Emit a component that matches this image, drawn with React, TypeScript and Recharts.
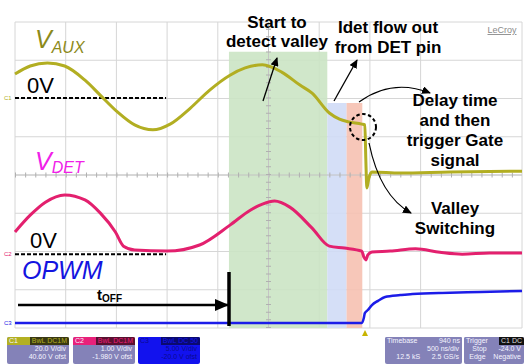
import React from "react";
import {
  ComposedChart,
  Line,
  XAxis,
  YAxis,
  CartesianGrid,
  ReferenceArea,
  ReferenceLine,
} from "recharts";

// time in ns (500 ns/div), level in divisions from screen centre
const timeTicks = [0, 500, 1000, 1500, 2000, 2500, 3000, 3500, 4000, 4500, 5000];
const levelTicks = [-4, -3, -2, -1, 0, 1, 2, 3, 4];

const auxTime = [0, 150, 320, 490, 690, 840, 1010, 1180, 1360, 1530, 1730, 1920, 2120, 2270, 2440, 2630, 2810, 2930, 3100, 3200, 3290, 3420, 3450, 3460, 3470, 3490, 3520, 3800, 4290, 5000];
const auxLevel = [2.64, 2.85, 2.93, 2.85, 2.48, 2.09, 1.65, 1.31, 1.18, 1.33, 1.75, 2.22, 2.61, 2.8, 2.88, 2.69, 2.35, 2.14, 1.62, 1.46, 1.39, 1.33, 1.31, 0.39, -0.34, -0.08, 0.08, 0.05, 0.08, 0.1];

const detTime = [0, 150, 300, 490, 690, 840, 990, 1070, 1180, 1500, 1820, 2120, 2320, 2440, 2560, 2710, 2930, 3100, 3250, 3420, 3440, 3460, 3480, 3520, 3700, 3950, 4190, 4410, 4680, 5000];
const detLevel = [-1.49, -1.05, -0.71, -0.52, -0.65, -0.99, -1.49, -1.86, -1.96, -1.99, -1.83, -1.31, -0.92, -0.76, -0.68, -0.84, -1.39, -1.86, -1.91, -1.99, -2.14, -2.22, -2.09, -2.01, -1.99, -1.93, -2.02, -2.07, -2.04, -2.04];

const pwmTime = [0, 850, 1820, 2810, 3420, 3440, 3450, 3480, 3520, 3580, 3650, 3800, 3920, 4290, 4590, 5000];
const pwmLevel = [-3.87, -3.87, -3.87, -3.87, -3.87, -3.74, -3.61, -3.53, -3.4, -3.29, -3.19, -3.14, -3.11, -3.08, -3.06, -3.03];

const zeroAux = 2.01;
const zeroDet = -2.07;

const auxData = auxTime.map((t, i) => ({ t, v: auxLevel[i] }));
const detData = detTime.map((t, i) => ({ t, v: detLevel[i] }));
const pwmData = pwmTime.map((t, i) => ({ t, v: pwmLevel[i] }));

const W = 524;
const H = 364;
const font = "'Liberation Sans', Arial, sans-serif";

function InfoBox({ left, width, head, tag, tagBg, tagColor, lines, bg = "#8482b8", color = "#f4f4ff", headBg = "#8482b8" }: any) {
  return (
    <div style={{ position: "absolute", left, top: 337, width, height: 27, background: bg, borderRadius: 2, fontFamily: font, fontSize: 7, lineHeight: "8px", color, overflow: "hidden" }}>
      <div style={{ display: "flex", height: 8, background: headBg }}>
        <div style={{ flex: 1, paddingLeft: 2 }}>{head}</div>
        <div style={{ background: tagBg, color: tagColor, padding: "0 2px" }}>{tag}</div>
      </div>
      {lines.map((l: string, i: number) => (
        <div key={i} style={{ textAlign: "right", paddingRight: 3, whiteSpace: "pre" }}>{l}</div>
      ))}
    </div>
  );
}

export default function App() {
  return (
    <div style={{ position: "absolute", left: 0, top: 0, width: W, height: H, background: "#fff", overflow: "hidden" }}>
      <ComposedChart width={W} height={H} margin={{ top: 22, left: 15, right: 2, bottom: 36 }}>
        <XAxis type="number" dataKey="t" domain={[0, 5000]} ticks={timeTicks} hide allowDuplicatedCategory={false} />
        <YAxis type="number" domain={[-4, 4]} ticks={levelTicks} hide />
        <CartesianGrid stroke="#d6d6d6" strokeWidth={1} />
        <ReferenceArea x1={2110} x2={3080} y1={-4} y2={3.22} fill="#cbe4c4" fillOpacity={0.9} stroke="none" />
        <ReferenceArea x1={3080} x2={3270} y1={-4} y2={1.88} fill="#d0dbf6" fillOpacity={0.9} stroke="none" />
        <ReferenceArea x1={3270} x2={3425} y1={-4} y2={1.88} fill="#f6c1b1" fillOpacity={0.9} stroke="none" />
        <ReferenceLine y={0} stroke="#c4c4c4" />
        <ReferenceLine y={0} stroke="#b0b0b0" strokeWidth={5} strokeDasharray="1 9.14" />
        <ReferenceLine x={2500} stroke="#c4c4c4" />
        <ReferenceLine x={2500} stroke="#b0b0b0" strokeWidth={5} strokeDasharray="1 6.65" />
        <ReferenceLine segment={[{ x: 0, y: zeroAux }, { x: 1490, y: zeroAux }]} stroke="#000" strokeWidth={2} strokeDasharray="4 2" />
        <ReferenceLine segment={[{ x: 0, y: zeroDet }, { x: 1490, y: zeroDet }]} stroke="#000" strokeWidth={2} strokeDasharray="4 2" />
        <Line data={auxData} dataKey="v" type="monotone" stroke="#b2ae22" strokeWidth={3} dot={false} isAnimationActive={false} />
        <Line data={detData} dataKey="v" type="monotone" stroke="#e3206e" strokeWidth={3} dot={false} isAnimationActive={false} />
        <Line data={pwmData} dataKey="v" type="monotone" stroke="#1c1ce8" strokeWidth={2.5} dot={false} isAnimationActive={false} />
      </ComposedChart>

      <svg width={W} height={H} style={{ position: "absolute", left: 0, top: 0, pointerEvents: "none" }} fontFamily={font}>
        <defs>
          <marker id="ah" markerWidth="9" markerHeight="8" refX="8" refY="4" orient="auto" markerUnits="userSpaceOnUse">
            <path d="M0,0 L9,4 L0,8 z" fill="#000" />
          </marker>
          <marker id="big" markerWidth="14" markerHeight="12" refX="13" refY="6" orient="auto" markerUnits="userSpaceOnUse">
            <path d="M0,0 L14,6 L0,12 z" fill="#000" />
          </marker>
        </defs>

        <text x={35} y={48} fontSize={25} fontStyle="italic" fill="#8c8a1a">V<tspan fontSize={16} dy={5}>AUX</tspan></text>
        <text x={27} y={93} fontSize={22} fill="#000">0V</text>
        <text x={35} y={170} fontSize={25} fontStyle="italic" fill="#f020e8">V<tspan fontSize={16} dy={3}>DET</tspan></text>
        <text x={30} y={248} fontSize={22} fill="#000">0V</text>
        <text x={22} y={279} fontSize={25} fontStyle="italic" fill="#1414e0">OPWM</text>
        <text x={97} y={300} fontSize={15} fontWeight="bold" fill="#000">t<tspan fontSize={10} dy={2}>OFF</tspan></text>

        <line x1={18} y1={305} x2={228} y2={305} stroke="#000" strokeWidth={2.5} markerEnd="url(#big)" />
        <line x1={229} y1={272} x2={229} y2={326} stroke="#000" strokeWidth={3.5} />

        <g fontSize={17} fontWeight="bold" fill="#000" textAnchor="middle">
          <text x={277} y={28}>Start to</text>
          <text x={277} y={47}>detect valley</text>
          <text x={388} y={33}>Idet flow out</text>
          <text x={388} y={53}>from DET pin</text>
          <text x={455} y={106}>Delay time</text>
          <text x={455} y={126}>and then</text>
          <text x={455} y={146}>trigger Gate</text>
          <text x={455} y={166}>signal</text>
          <text x={455} y={214}>Valley</text>
          <text x={455} y={234}>Switching</text>
        </g>

        <line x1={263} y1={101} x2={277} y2={58} stroke="#000" strokeWidth={1.3} markerEnd="url(#ah)" />
        <line x1={334} y1={101} x2={357} y2={60} stroke="#000" strokeWidth={1.3} markerEnd="url(#ah)" />
        <path d="M359,102 Q392,78 430,93" fill="none" stroke="#000" strokeWidth={1.2} markerEnd="url(#ah)" />
        <path d="M369,143 Q380,196 411,213" fill="none" stroke="#000" strokeWidth={1.2} markerEnd="url(#ah)" />
        <circle cx={363} cy={127} r={13} fill="none" stroke="#000" strokeWidth={2} strokeDasharray="3.5 2.5" />

        <text x={502} y={33} fontSize={9} fill="#8a8a8a" textAnchor="middle" textDecoration="underline">LeCroy</text>

        <text x={4} y={100} fontSize={6} fill="#b2ae22">C1</text>
        <text x={4} y={256} fontSize={6} fill="#e3206e">C2</text>
        <text x={4} y={325} fontSize={6} fill="#1c1ce8">C3</text>
        <path d="M362,336 L365,330 L368,336 z" fill="#c8b400" />
      </svg>

      <InfoBox left={7} width={62} head="C1" headBg="#b3b022" tag="BwL DC1M" tagBg="#3a3812" tagColor="#b3b022" lines={["20.0 V/div", "40.60 V ofst"]} />
      <InfoBox left={73} width={62} head="C2" headBg="#e8207a" tag="BwL DC1M" tagBg="#5a1030" tagColor="#e8207a" lines={["1.00 V/div", "-1.980 V ofst"]} />
      <InfoBox left={138} width={62} head="C3" bg="#1212ee" headBg="#1212ee" color="#0a0a90" tag="BwL DC 50" tagBg="#0a0a70" tagColor="#1212ee" lines={["5.00 V/div", "-20.0 V ofst"]} />
      <InfoBox left={385} width={77} head="Timebase" tag="940 ns" tagBg="#8482b8" tagColor="#f4f4ff" lines={["500 ns/div", "12.5 kS      2.5 GS/s"]} />
      <InfoBox left={464} width={60} head="Trigger" tag="C1 DC" tagBg="#111" tagColor="#ddd" lines={["Stop      -24.0 V", "Edge    Negative"]} />
    </div>
  );
}
